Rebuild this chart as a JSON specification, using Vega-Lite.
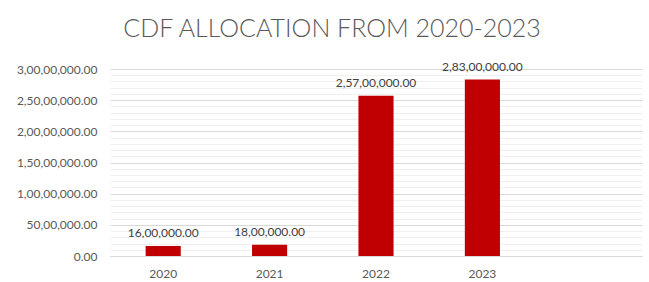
{
  "$schema": "https://vega.github.io/schema/vega-lite/v6.json",
  "width": 532,
  "height": 187,
  "autosize": "none",
  "padding": {"left": 110, "top": 69, "right": 7, "bottom": 26},
  "background": "white",
  "config": {
    "locale": {"number": {"decimal": ".", "thousands": ",", "grouping": [3, 2, 2, 2, 2, 2], "currency": ["", ""]}},
    "view": {"stroke": null},
    "font": "Lato"
  },
  "title": {
    "text": "CDF ALLOCATION FROM 2020-2023",
    "font": "Lato",
    "fontSize": 25,
    "fontWeight": 300,
    "color": "#595959",
    "anchor": "middle",
    "dx": -44,
    "offset": 19
  },
  "data": {
    "values": [
      {"year": "2020", "amount": 1600000},
      {"year": "2021", "amount": 1800000},
      {"year": "2022", "amount": 25700000},
      {"year": "2023", "amount": 28300000}
    ]
  },
  "encoding": {
    "x": {
      "field": "year",
      "type": "nominal",
      "scale": {"domain": ["2020", "2021", "2022", "2023", " "], "paddingInner": 0.67, "paddingOuter": 0.335},
      "axis": {
        "title": null,
        "labelAngle": 0,
        "ticks": false,
        "tickSize": 0,
        "labelPadding": 12,
        "labelFont": "Lato",
        "labelFontSize": 12,
        "labelColor": "#595959",
        "domainColor": "#d9d9d9",
        "domainWidth": 1,
        "grid": false
      }
    }
  },
  "layer": [
    {
      "mark": {"type": "bar", "color": "#c00000"},
      "encoding": {
        "y": {
          "field": "amount",
          "type": "quantitative",
          "scale": {"domain": [0, 30000000], "nice": false},
          "axis": {
            "title": null,
            "values": [1000000, 2000000, 3000000, 4000000, 6000000, 7000000, 8000000, 9000000, 11000000, 12000000, 13000000, 14000000, 16000000, 17000000, 18000000, 19000000, 21000000, 22000000, 23000000, 24000000, 26000000, 27000000, 28000000, 29000000],
            "labels": false,
            "ticks": false,
            "domain": false,
            "grid": true,
            "gridColor": "#f0f0f0",
            "gridWidth": 1,
            "zindex": 0
          }
        }
      }
    },
    {
      "mark": {"type": "text", "baseline": "alphabetic", "dy": -9, "font": "Lato", "fontSize": 12, "color": "#404040"},
      "encoding": {
        "y": {
          "field": "amount",
          "type": "quantitative",
          "axis": {
            "title": null,
            "orient": "left",
            "values": [0, 5000000, 10000000, 15000000, 20000000, 25000000, 30000000],
            "format": ",.2f",
            "ticks": false,
            "tickSize": 0,
            "domain": false,
            "labelPadding": 13,
            "labelFont": "Lato",
            "labelFontSize": 12,
            "labelColor": "#595959",
            "grid": true,
            "gridColor": "#d9d9d9",
            "gridWidth": 1,
            "zindex": 0
          }
        },
        "text": {"field": "amount", "type": "quantitative", "format": ",.2f"}
      }
    }
  ],
  "resolve": {"axis": {"y": "independent"}}
}
